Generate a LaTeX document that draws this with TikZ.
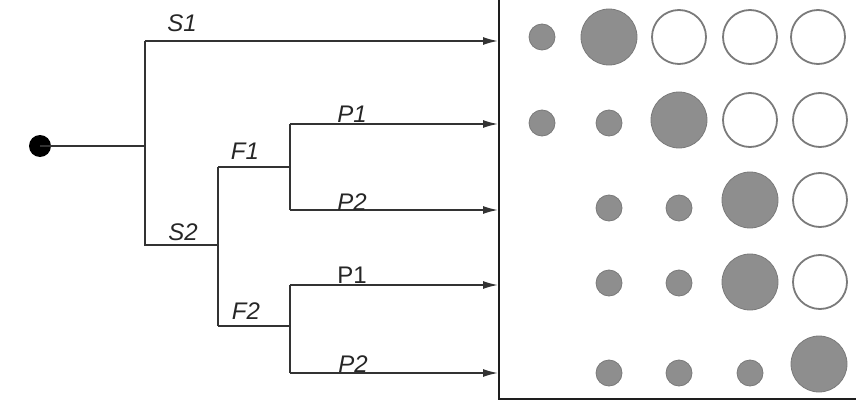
\documentclass[tikz,border=0pt]{standalone}
\usepackage{fontspec}
\setmainfont{Liberation Sans}
\usetikzlibrary{arrows.meta}
\definecolor{linec}{HTML}{333333}
\definecolor{textc}{HTML}{262626}
\definecolor{boxc}{HTML}{1E1E1E}
\definecolor{fillg}{HTML}{8E8E8E}
\definecolor{edgeg}{HTML}{7A7A7A}
\tikzset{
  tree/.style={draw=linec, line width=1.6pt},
  arr/.style={tree, -{Latex[length=15pt,width=8pt]}},
  lbl/.style={font=\fontsize{24}{27}\selectfont\itshape, text=textc, anchor=base, inner sep=0pt},
  lblup/.style={lbl, font=\fontsize{24}{27}\selectfont},
  smallc/.style={circle, fill=fillg, draw=edgeg, line width=0.8pt, minimum size=26pt, inner sep=0pt},
  bigc/.style={circle, fill=fillg, draw=edgeg, line width=0.8pt, minimum size=56pt, inner sep=0pt},
  openc/.style={circle, fill=white, draw=edgeg, line width=1.8pt, minimum size=54pt, inner sep=0pt},
}
\begin{document}
\begin{tikzpicture}[x=1pt, y=-1pt]
\useasboundingbox (0,0) rectangle (856,401);
% root
\node[circle, fill=black, minimum size=22pt, inner sep=0pt] (root) at (40,146) {};
\coordinate (j0) at (145,146);
\coordinate (s1) at (145,41);
\coordinate (s2) at (145,245);
\coordinate (j1) at (218,245);
\coordinate (f1) at (218,167);
\coordinate (f2) at (218,326);
\coordinate (j2) at (290,167);
\coordinate (j3) at (290,326);
\coordinate (p11) at (290,124);
\coordinate (p12) at (290,210);
\coordinate (p21) at (290,285);
\coordinate (p22) at (290,373);
\coordinate (t1) at (498,41);
\coordinate (t2) at (498,124);
\coordinate (t3) at (498,210);
\coordinate (t4) at (498,285);
\coordinate (t5) at (498,373);
% tree lines
\draw[tree] (root.center) -- (j0);
\draw[tree] (s1) -- (s2) -- (j1);
\draw[tree] (f1) -- (f2);
\draw[tree] (f1) -- (j2);
\draw[tree] (f2) -- (j3);
\draw[tree] (p11) -- (p12);
\draw[tree] (p21) -- (p22);
\draw[arr] (s1) -- (t1);
\draw[arr] (p11) -- (t2);
\draw[arr] (p12) -- (t3);
\draw[arr] (p21) -- (t4);
\draw[arr] (p22) -- (t5);
% labels
\node[lbl] (lS1) at (182,32) {S1};
\node[lbl] (lS2) at (183,240) {S2};
\node[lbl] (lF1) at (245,159) {F1};
\node[lbl] (lF2) at (246,319) {F2};
\node[lbl] (lP11) at (352,123) {P1};
\node[lbl] (lP12) at (352,210) {P2};
\node[lblup] (lP21) at (352,283) {P1};
\node[lbl] (lP22) at (353,372) {P2};
% box
\draw[draw=boxc, line width=2pt] (499,-5) -- (499,399) -- (862,399);
% circles row 1
\node[smallc] (c11) at (542,37) {};
\node[bigc] (c12) at (609,37) {};
\node[openc] (c13) at (679,37) {};
\node[openc] (c14) at (750,37) {};
\node[openc] (c15) at (818,37) {};
% row 2
\node[smallc] (c21) at (542,123) {};
\node[smallc] (c22) at (609,123) {};
\node[bigc] (c23) at (679,120) {};
\node[openc] (c24) at (750,120) {};
\node[openc] (c25) at (820,120) {};
% row 3
\node[smallc] (c32) at (609,208) {};
\node[smallc] (c33) at (679,208) {};
\node[bigc] (c34) at (750,200) {};
\node[openc] (c35) at (820,200) {};
% row 4
\node[smallc] (c42) at (609,283) {};
\node[smallc] (c43) at (679,283) {};
\node[bigc] (c44) at (750,282) {};
\node[openc] (c45) at (820,282) {};
% row 5
\node[smallc] (c52) at (609,373) {};
\node[smallc] (c53) at (679,373) {};
\node[smallc] (c54) at (750,373) {};
\node[bigc] (c55) at (819,364) {};
\end{tikzpicture}
\end{document}
